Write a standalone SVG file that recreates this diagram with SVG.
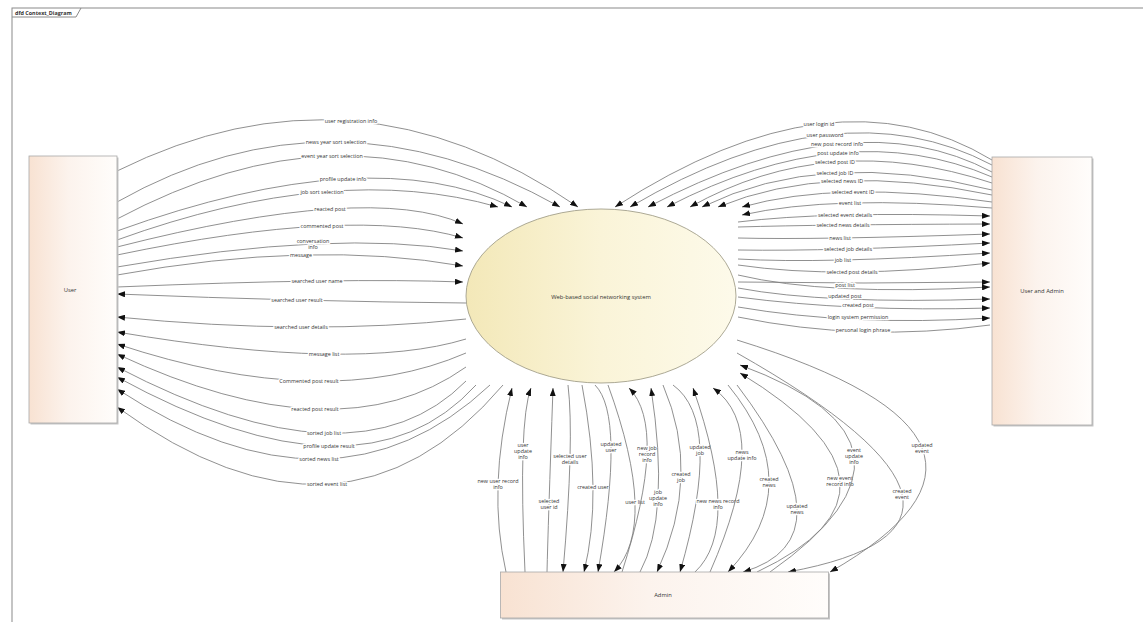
<svg xmlns="http://www.w3.org/2000/svg" width="1143" height="622" viewBox="0 0 1143 622">
  <style>
    .frame { fill: none; stroke: #8a8a8a; stroke-width: 1; }
    .tab { font-family: "Open Sans", "Liberation Sans", sans-serif; font-size: 5.4px; font-weight: bold; fill: #333; }
    .box { stroke: #a8a8a8; stroke-width: 0.8; fill: url(#boxFill); }
    .shadow { fill: #c6c6c6; }
    .proc { stroke: #a39f8a; stroke-width: 0.9; fill: url(#procFill); }
    .name { font-family: "Open Sans", "Liberation Sans", sans-serif; font-size: 5.8px; fill: #333; text-anchor: middle; }
    .ln { fill: none; stroke: #7c7c7c; stroke-width: 0.85; }
    .ar { marker-end: url(#arrow); }
    .lb { font-family: "Open Sans", "Liberation Sans", sans-serif; font-size: 5.4px; fill: #333; text-anchor: middle; stroke: #fff; stroke-width: 2.6; stroke-linejoin: round; paint-order: stroke; }
  </style>
  <defs>
    <linearGradient id="boxFill" x1="0" y1="0" x2="1" y2="0">
      <stop offset="0" stop-color="#f8e2d2"/>
      <stop offset="0.45" stop-color="#fcf3ed"/>
      <stop offset="1" stop-color="#fffdfb"/>
    </linearGradient>
    <linearGradient id="procFill" x1="0" y1="0" x2="1" y2="0">
      <stop offset="0" stop-color="#f3e8b8"/>
      <stop offset="0.5" stop-color="#faf4d8"/>
      <stop offset="1" stop-color="#fdfaea"/>
    </linearGradient>
    <marker id="arrow" markerUnits="userSpaceOnUse" markerWidth="8" markerHeight="6" refX="8" refY="3" orient="auto">
      <path d="M0,0 L8,3 L0,6 z" fill="#111"/>
    </marker>
  </defs>

  <rect width="1143" height="622" fill="#fff"/>

  <!-- diagram frame with name tab -->
  <g id="frame">
    <rect class="frame" x="12" y="8" width="1140" height="630"/>
    <path class="frame" d="M12,17 H76 L81,8"/>
    <text class="tab" x="15" y="14.5">dfd Context_Diagram</text>
  </g>

  <!-- data flows -->
  <g id="connectors">
    <!-- User to system -->
    <g><path class="ln ar" d="M117,171 Q354.5,53 578,207"/><text class="lb" x="351" y="123">user registration info</text></g>
    <g><path class="ln ar" d="M117,202 Q333.5,79.5 560,207"/><text class="lb" x="336" y="144">news year sort selection</text></g>
    <g><path class="ln ar" d="M117,219 Q342,99 527,207"/><text class="lb" x="332" y="158">event year sort selection</text></g>
    <g><path class="ln ar" d="M117,231 Q371.5,139 512,207"/><text class="lb" x="343" y="181">profile update info</text></g>
    <g><path class="ln ar" d="M117,240 Q336.5,160.5 498,207"/><text class="lb" x="322" y="194">job sort selection</text></g>
    <g><path class="ln ar" d="M117,247 Q370,182.5 463,224"/><text class="lb" x="330" y="211">reacted post</text></g>
    <g><path class="ln ar" d="M117,255 Q354,205.5 463,238"/><text class="lb" x="322" y="228">commented post</text></g>
    <g><path class="ln ar" d="M117,267 Q336,229 463,251"/><text class="lb" x="313" y="243">conversation<tspan x="313" dy="6">info</tspan></text></g>
    <g><path class="ln ar" d="M117,275 Q312,239.5 463,266"/><text class="lb" x="301" y="257">message</text></g>
    <g><path class="ln ar" d="M117,287 Q344,277.5 463,282"/><text class="lb" x="317" y="283">searched user name</text></g>

    <!-- system to User -->
    <g><path class="ln ar" d="M466,303 Q302.5,301.5 117,294"/><text class="lb" x="297" y="302">searched user result</text></g>
    <g><path class="ln ar" d="M466,319 Q310.5,336 117,317"/><text class="lb" x="301" y="329">searched user details</text></g>
    <g><path class="ln ar" d="M466,339 Q356.5,372.5 117,332"/><text class="lb" x="324" y="356">message list</text></g>
    <g><path class="ln ar" d="M466,353 Q326.5,413.5 117,344"/><text class="lb" x="309" y="383">Commented post result</text></g>
    <g><path class="ln ar" d="M466,367 Q338.5,457.5 117,354"/><text class="lb" x="315" y="411">reacted post result</text></g>
    <g><path class="ln ar" d="M466,381 Q356.5,492 117,367"/><text class="lb" x="324" y="435">sorted job list</text></g>
    <g><path class="ln ar" d="M476,385 Q361.5,511 117,377"/><text class="lb" x="329" y="448">profile update result</text></g>
    <g><path class="ln ar" d="M490,385 Q334.5,531 117,389"/><text class="lb" x="319" y="461">sorted news list</text></g>
    <g><path class="ln ar" d="M503,385 Q344,572 117,407"/><text class="lb" x="327" y="486">sorted event list</text></g>

    <!-- User and Admin to system -->
    <g><path class="ln ar" d="M992,160 Q834.5,64.5 615,207"/><text class="lb" x="819" y="126">user login id</text></g>
    <g><path class="ln ar" d="M992,165 Q839,84 630,207"/><text class="lb" x="825" y="137">user password</text></g>
    <g><path class="ln ar" d="M992,172 Q854,98.5 648,207"/><text class="lb" x="837" y="146">new post record info</text></g>
    <g><path class="ln ar" d="M992,177 Q846.5,114 667,207"/><text class="lb" x="838" y="155">post update info</text></g>
    <g><path class="ln ar" d="M992,183 Q829,129 690,207"/><text class="lb" x="835" y="164">selected post ID</text></g>
    <g><path class="ln ar" d="M992,190 Q823,147.5 702,207"/><text class="lb" x="835" y="175">selected job ID</text></g>
    <g><path class="ln ar" d="M992,195 Q829,161 718,207"/><text class="lb" x="842" y="183">selected news ID</text></g>
    <g><path class="ln ar" d="M992,202 Q839,179.5 742,207"/><text class="lb" x="853" y="194">selected event ID</text></g>
    <g><path class="ln ar" d="M992,208 Q833,194.5 742,215"/><text class="lb" x="850" y="205">event list</text></g>

    <!-- system to User and Admin -->
    <g><path class="ln ar" d="M738,222 Q826,211 990,216"/><text class="lb" x="845" y="217">selected event details</text></g>
    <g><path class="ln ar" d="M738,227 Q822,224.5 990,224"/><text class="lb" x="843" y="227">selected news details</text></g>
    <g><path class="ln ar" d="M738,238 Q816,240 990,234"/><text class="lb" x="840" y="240">news list</text></g>
    <g><path class="ln ar" d="M738,250 Q832,251.5 990,243"/><text class="lb" x="848" y="251">selected job details</text></g>
    <g><path class="ln ar" d="M738,259 Q822,264 990,253"/><text class="lb" x="843" y="262">job list</text></g>
    <g><path class="ln ar" d="M738,265 Q840,280 990,263"/><text class="lb" x="852" y="274">selected post details</text></g>
    <g><path class="ln ar" d="M738,282 Q864,284 990,282"/></g>
    <g><path class="ln ar" d="M738,275 Q826,296 990,287"/><text class="lb" x="845" y="287">post list</text></g>
    <g><path class="ln ar" d="M738,288 Q826,304.5 990,299"/><text class="lb" x="845" y="298">updated post</text></g>
    <g><path class="ln ar" d="M738,297 Q852,312 990,308"/><text class="lb" x="858" y="307">created post</text></g>
    <g><path class="ln ar" d="M738,307 Q852,326.5 990,318"/><text class="lb" x="858" y="319">login system permission</text></g>
    <g><path class="ln" d="M738,317 Q862,342.5 990,325"/><text class="lb" x="863" y="332">personal login phrase</text></g>

    <!-- Admin and system -->
    <g><path class="ln ar" d="M506,572 Q487,488 512,388"/><text class="lb" x="498" y="483">new user record<tspan x="498" dy="6">info</tspan></text></g>
    <g><path class="ln ar" d="M525,572 Q518,422 531,388"/><text class="lb" x="523" y="447">user<tspan x="523" dy="6">update</tspan><tspan x="523" dy="6">info</tspan></text></g>
    <g><path class="ln ar" d="M547,572 Q548,528 553,388"/><text class="lb" x="549" y="503">selected<tspan x="549" dy="6">user id</tspan></text></g>
    <g><path class="ln ar" d="M568,385 Q574.5,439.5 563,572"/><text class="lb" x="570" y="458">selected user<tspan x="570" dy="6">details</tspan></text></g>
    <g><path class="ln ar" d="M582,385 Q603,495.5 584,572"/><text class="lb" x="593" y="489">created user</text></g>
    <g><path class="ln ar" d="M595,385 Q625.5,415.5 598,572"/><text class="lb" x="611" y="446">updated<tspan x="611" dy="6">user</tspan></text></g>
    <g><path class="ln ar" d="M608,385 Q659,525.5 614,572"/><text class="lb" x="635" y="504">user list</text></g>
    <g><path class="ln ar" d="M622,572 Q668.5,428 629,388"/><text class="lb" x="647" y="450">new job<tspan x="647" dy="6">record</tspan><tspan x="647" dy="6">info</tspan></text></g>
    <g><path class="ln ar" d="M640,572 Q670.5,516 651,388"/><text class="lb" x="658" y="494">job<tspan x="658" dy="6">update</tspan><tspan x="658" dy="6">info</tspan></text></g>
    <g><path class="ln ar" d="M663,385 Q702,475.5 657,572"/><text class="lb" x="681" y="476">created<tspan x="681" dy="6">job</tspan></text></g>
    <g><path class="ln ar" d="M673,385 Q723.5,421.5 680,572"/><text class="lb" x="700" y="449">updated<tspan x="700" dy="6">job</tspan></text></g>
    <g><path class="ln ar" d="M695,572 Q742,528 693,388"/><text class="lb" x="718" y="503">new news record<tspan x="718" dy="6">info</tspan></text></g>
    <g><path class="ln ar" d="M710,572 Q772.5,430 713,388"/><text class="lb" x="742" y="454">news<tspan x="742" dy="6">update info</tspan></text></g>
    <g><path class="ln ar" d="M728,385 Q810,485.5 728,572"/><text class="lb" x="769" y="481">created<tspan x="769" dy="6">news</tspan></text></g>
    <g><path class="ln ar" d="M737,385 Q854,539.5 743,572"/><text class="lb" x="797" y="508">updated<tspan x="797" dy="6">news</tspan></text></g>
    <g><path class="ln ar" d="M757,572 Q931.5,489.5 740,373"/><text class="lb" x="840" y="480">new event<tspan x="840" dy="6">record info</tspan></text></g>
    <g><path class="ln ar" d="M770,572 Q953,443.5 740,365"/><text class="lb" x="854" y="452">event<tspan x="854" dy="6">update</tspan><tspan x="854" dy="6">info</tspan></text></g>
    <g><path class="ln ar" d="M737,353 Q1041.5,525.5 788,572"/><text class="lb" x="902" y="493">created<tspan x="902" dy="6">event</tspan></text></g>
    <g><path class="ln ar" d="M737,340 Q1060.5,440 830,572"/><text class="lb" x="922" y="447">updated<tspan x="922" dy="6">event</tspan></text></g>
  </g>

  <!-- external entities and process -->
  <g id="user">
    <rect class="shadow" x="30.5" y="157.5" width="88" height="267"/>
    <rect class="box" x="29" y="156" width="88" height="267"/>
    <text class="name" x="70" y="292">User</text>
  </g>
  <g id="user-and-admin">
    <rect class="shadow" x="993.5" y="158.5" width="100" height="268"/>
    <rect class="box" x="992" y="157" width="100" height="268"/>
    <text class="name" x="1042" y="293">User and Admin</text>
  </g>
  <g id="admin">
    <rect class="shadow" x="502" y="573.5" width="328" height="46"/>
    <rect class="box" x="500.5" y="572" width="328" height="46"/>
    <text class="name" x="663" y="597">Admin</text>
  </g>
  <g id="system">
    <ellipse class="proc" cx="601" cy="296" rx="135" ry="87"/>
    <text class="name" x="601" y="298.5">Web-based social networking system</text>
  </g>
</svg>
